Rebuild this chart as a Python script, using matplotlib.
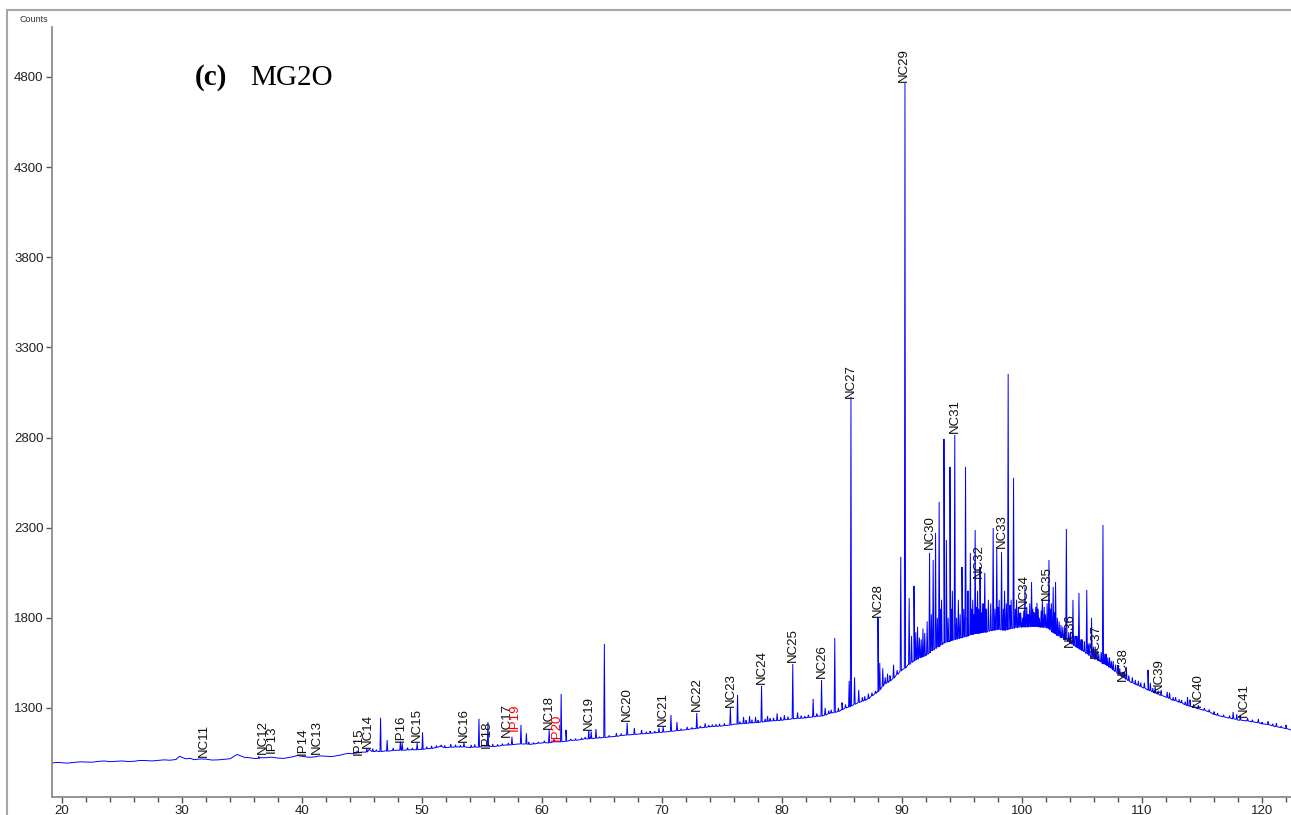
import matplotlib
matplotlib.use("Agg")
import matplotlib.pyplot as plt
from matplotlib.patches import Rectangle
from matplotlib.ticker import MultipleLocator

# ---------------- data ----------------
base_x = [19.2, 19.7, 20, 20.5, 21, 21.5, 22, 22.5, 23, 23.5, 24, 24.5, 25, 25.5, 26, 26.5, 27, 27.5, 28, 28.5,
          29, 29.5, 29.8, 30.3, 30.7, 31, 31.5, 32, 32.5, 33, 33.5, 34, 34.6, 35.2, 35.6, 36, 36.5, 37, 37.5, 38,
          38.5, 39, 39.3, 39.6, 40.2, 40.6, 41, 41.5, 42, 42.5, 43, 43.3, 43.8, 44.2, 44.5, 45,
          45.6, 46, 47, 48, 49, 50, 51, 51.5, 52, 53, 54, 55, 56, 57, 58,
          59, 60, 61, 62, 63, 64, 65, 66, 67, 68, 69, 70, 71, 72, 73, 74, 75, 76, 77, 78, 79, 80, 81, 82, 83, 84,
          85, 86, 87, 88, 88.5, 89, 89.5, 90, 90.5, 91, 91.5, 92, 92.5, 93, 93.5, 94, 94.5, 95, 95.5, 96, 96.5,
          97, 97.5, 98, 98.5, 99, 99.5, 100, 100.5, 101, 101.5, 102, 102.5, 103, 103.5, 104, 104.5, 105, 105.5,
          106, 106.5, 107, 107.5, 108, 108.5, 109, 109.5, 110, 110.5, 111, 111.5, 112, 112.5, 113, 113.5, 114,
          114.5, 115, 115.5, 116, 116.5, 117, 117.5, 118, 118.5, 119, 119.5, 120, 120.5, 121, 121.5, 122, 122.4]
base_y = [995, 998, 996, 994, 998, 1001, 1000, 999, 1003, 1006, 1002, 1004, 1006, 1003, 1004, 1009, 1008, 1006,
          1009, 1012, 1010, 1014, 1032, 1018, 1020, 1013, 1017, 1016, 1011, 1012, 1015, 1018, 1042, 1026, 1024,
          1020, 1024, 1024, 1027, 1022, 1020, 1026, 1030, 1036, 1030, 1026, 1028, 1034, 1032, 1030, 1036, 1040,
          1048, 1046, 1050, 1055,
          1070, 1058, 1062, 1066,
          1068, 1072, 1078, 1088, 1080, 1084, 1080, 1090, 1085, 1095, 1100, 1098, 1106, 1112, 1118, 1122, 1132,
          1135, 1142, 1150, 1155, 1160, 1165, 1172, 1180, 1188, 1196, 1200, 1210, 1215, 1220, 1228, 1232, 1240,
          1245, 1255, 1270, 1290, 1320, 1345, 1390, 1430, 1450, 1480, 1510, 1540, 1560, 1580, 1590, 1620, 1640,
          1660, 1670, 1680, 1690, 1700, 1710, 1715, 1720, 1730, 1735, 1730, 1740, 1745, 1748, 1750, 1752, 1748,
          1745, 1720, 1700, 1680, 1660, 1640, 1620, 1600, 1580, 1560, 1540, 1520, 1490, 1470, 1445, 1430, 1415,
          1400, 1385, 1370, 1360, 1345, 1335, 1320, 1310, 1300, 1290, 1280, 1265, 1255, 1248, 1240, 1232, 1230,
          1225, 1220, 1212, 1208, 1198, 1192, 1186, 1178]

# labelled / prominent peaks
peak_x = [36.4, 44.6, 45.4, 46.55, 47.1, 48.2, 48.35, 49.6, 50.05, 50.8, 51.9, 52.4, 53.5, 54.75, 55.5, 57.2,
          57.5, 58.25, 58.7, 60.6, 61.6, 62.0, 63.9, 64.1, 64.5, 65.2, 66.2, 67.1, 67.7, 68.3, 69.0, 69.75, 70.1,
          70.75, 71.25, 72.1, 72.9, 73.6, 74.5, 75.7, 76.3, 76.8, 77.3, 77.8, 78.3, 78.8, 79.6, 80.2, 80.9, 81.3,
          82.6, 83.3, 83.6, 84.4, 85.0, 85.6, 85.75, 86.05, 86.4, 87.2, 88.0, 88.15, 88.4, 88.8, 89.3, 89.9,
          90.25, 90.6, 91.0, 91.3, 91.6, 91.9, 92.3, 92.6, 92.8, 93.1, 93.3, 93.5, 93.7, 94.0, 94.2, 94.4, 94.7,
          95.0, 95.3, 95.5, 95.7, 95.9, 96.1, 96.3, 96.5, 96.7, 96.9, 97.2, 97.6, 97.9, 98.1, 98.3, 98.55, 98.85,
          99.1, 99.3, 99.55, 99.8, 100.05, 100.25, 100.5, 100.8, 101.0, 101.25, 101.45, 101.7, 101.95, 102.25,
          102.45, 102.6, 102.8, 103.1, 103.4, 103.7, 103.9, 104.25, 104.5, 104.75, 105.0, 105.4, 105.6, 105.8,
          106.1, 106.4, 106.75, 107.0, 107.3, 107.6, 108.0, 108.35, 108.7, 109.2, 109.7, 110.2, 110.5, 110.7,
          111.1, 111.6, 112.1, 112.3, 112.8, 113.3, 113.8, 114.0, 114.7, 115.2, 116.0, 117.6, 117.9, 118.2,
          118.8, 119.7, 120.5, 121.2, 122.0]
peak_top = [1032, 1062, 1078, 1245, 1122, 1112, 1105, 1105, 1165, 1090, 1092, 1100, 1106, 1240, 1222, 1106,
            1140, 1206, 1160, 1178, 1378, 1178, 1178, 1170, 1183, 1655, 1161, 1217, 1189, 1178, 1172, 1189, 1195,
            1261, 1222, 1195, 1272, 1215, 1210, 1300, 1372, 1250, 1255, 1250, 1422, 1255, 1270, 1260, 1544, 1275,
            1350, 1455, 1300, 1688, 1330, 1450, 3025, 1470, 1400, 1380, 1800, 1550, 1520, 1490, 1540, 2138,
            4767, 1910, 1977, 1750, 1680, 1716, 2160, 2121, 2271, 2443, 1900, 2792, 2232, 2637, 1950, 2814, 1900,
            2082, 2637, 1950, 2160, 1900, 2287, 1950, 2082, 1880, 2049, 1900, 2298, 2193, 1900, 2165, 1950, 3153,
            1900, 2576, 1900, 1827, 1800, 1971, 1820, 1999, 1830, 1882, 1800, 1899, 1820, 2121,
            1880, 1971, 1999, 1780, 1750, 2293, 1720, 1899, 1700, 1938, 1680, 1955, 1660, 1800,
            1640, 1600, 2315, 1600, 1580, 1560, 1538, 1500, 1527, 1470, 1450, 1440, 1511, 1439,
            1420, 1400, 1390, 1385, 1360, 1345, 1361, 1345, 1315, 1300, 1280, 1278, 1265, 1261,
            1245, 1239, 1225, 1217, 1206]
peak_foot = [1020, 1050, 1055, 1058, 1060, 1065, 1065, 1068, 1070, 1075, 1080, 1082, 1084, 1082, 1088, 1094,
             1096, 1100, 1100, 1106, 1112, 1115, 1128, 1130, 1132, 1136, 1142, 1150, 1153, 1156, 1160, 1164, 1166,
             1170, 1174, 1180, 1186, 1192, 1198, 1205, 1210, 1213, 1216, 1218, 1222, 1225, 1230, 1234, 1240, 1242,
             1250, 1255, 1260, 1275, 1290, 1305, 1310, 1320, 1330, 1350, 1390, 1400, 1420, 1440, 1465, 1505,
             1520, 1540, 1560, 1570, 1580, 1588, 1605, 1620, 1630, 1640, 1650, 1660, 1665, 1670, 1675, 1680, 1685,
             1690, 1695, 1700, 1705, 1708, 1710, 1712, 1715, 1718, 1720, 1725, 1730, 1733, 1735, 1733, 1730, 1735,
             1740, 1742, 1745, 1747, 1748, 1749, 1750, 1751, 1752, 1750, 1748, 1747, 1745, 1740,
             1730, 1720, 1710, 1700, 1690, 1680, 1668, 1652, 1640, 1630, 1620, 1600, 1592, 1582,
             1570, 1560, 1545, 1538, 1525, 1510, 1490, 1472, 1458, 1440, 1425, 1410, 1400, 1395,
             1382, 1370, 1358, 1352, 1340, 1328, 1312, 1310, 1295, 1287, 1265, 1240, 1236, 1232,
             1228, 1218, 1208, 1196, 1186]

# small peaks (noise-level reflections)
minor_x = [45.9, 46.2, 47.6, 48.8, 49.2, 50.4, 51.2, 51.6, 52.8, 53.2, 54.1, 54.4, 55.9, 56.3, 56.7, 58.9,
           59.3, 59.7, 60.2, 61.0, 62.4, 62.8, 63.3, 63.6, 64.8, 65.6, 66.6, 68.7, 69.4, 71.6, 72.5, 73.2,
           73.9, 74.2, 74.8, 75.2, 76.5, 77.0, 77.5, 78.0, 78.6, 79.0, 79.3, 79.9, 80.5, 81.6, 81.9, 82.2,
           82.9, 83.9, 84.1, 84.7, 85.3, 86.7, 86.9, 87.5, 87.8, 88.6, 89.0, 89.6,
           90.8, 91.15, 91.45, 91.75, 92.1, 92.45, 92.95, 93.2, 93.85, 94.1, 94.55, 94.85, 95.15, 95.45, 95.8,
           96.0, 96.2, 96.4, 96.6, 96.8, 97.0, 97.4, 97.75, 98.0, 98.45, 98.7, 99.0, 99.45, 99.7, 99.9,
           100.15, 100.4, 100.65, 100.9, 101.15, 101.35, 101.6, 101.85, 102.1, 102.35, 102.7, 102.95, 103.25,
           103.55, 104.05, 104.35, 104.65, 104.9, 105.2, 105.5, 105.95, 106.25, 106.6, 106.9, 107.15, 107.45,
           107.8, 108.15, 108.5, 108.9,
           109.45, 109.9, 110.9, 111.35, 112.6, 113.1, 113.6, 114.3, 115.6, 116.3, 116.8, 117.3, 119.2, 120.0,
           120.9, 121.6]
minor_top = [1075, 1068, 1078, 1080, 1078, 1085, 1092, 1095, 1096, 1094, 1095, 1098, 1100, 1098, 1102, 1112,
             1108, 1112, 1118, 1125, 1128, 1130, 1134, 1138, 1140, 1148, 1158, 1168, 1172, 1185, 1192, 1200,
             1205, 1208, 1212, 1215, 1225, 1232, 1235, 1232, 1240, 1242, 1245, 1250, 1252, 1258, 1255, 1262,
             1270, 1285, 1290, 1300, 1320, 1360, 1365, 1385, 1395, 1470, 1480, 1510,
             1700, 1720, 1690, 1740, 1780, 1820, 1800, 1850, 1800, 1850, 1800, 1820, 1850, 1800, 1850,
             1820, 1860, 1850, 1830, 1880, 1850, 1880, 1850, 1860, 1850, 1880, 1870, 1850, 1860, 1830,
             1840, 1860, 1880, 1850, 1860, 1850, 1840, 1860, 1880, 1850, 1830, 1800, 1760,
             1740, 1720, 1700, 1700, 1680, 1670, 1650, 1640, 1620, 1610, 1600, 1580, 1560,
             1540, 1520, 1500, 1480,
             1455, 1440, 1410, 1395, 1360, 1348, 1335, 1320, 1292, 1272, 1262, 1258, 1235, 1222,
             1212, 1200]
minor_foot = [1058, 1060, 1064, 1067, 1068, 1074, 1080, 1086, 1083, 1083, 1081, 1083, 1086, 1088, 1092, 1098,
              1100, 1104, 1107, 1112, 1120, 1121, 1125, 1129, 1134, 1139, 1147, 1158, 1162, 1176, 1184, 1190,
              1195, 1197, 1199, 1202, 1212, 1215, 1217, 1220, 1224, 1228, 1229, 1231, 1236, 1243, 1244, 1247,
              1253, 1268, 1272, 1280, 1300, 1337, 1342, 1367, 1380, 1434, 1450, 1486,
              1552, 1566, 1578, 1585, 1596, 1617, 1638, 1648, 1667, 1672, 1681, 1687, 1693, 1699, 1706,
              1710, 1711, 1714, 1716, 1719, 1720, 1728, 1732, 1735, 1731, 1733, 1740, 1744, 1746, 1747,
              1748, 1749, 1750, 1751, 1751, 1749, 1748, 1746, 1744, 1735, 1715, 1702, 1690,
              1678, 1658, 1646, 1634, 1624, 1612, 1600, 1582, 1570, 1556, 1544, 1534, 1522,
              1502, 1484, 1470, 1450,
              1432, 1418, 1388, 1376, 1342, 1332, 1318, 1304, 1278, 1259, 1251, 1244, 1223, 1212,
              1201, 1191]

label_text = ["NC11", "NC12", "IP13", "IP14", "NC13", "IP15", "NC14", "IP16", "NC15", "NC16", "IP18", "NC17",
              "IP19", "NC18", "IP20", "NC19", "NC20", "NC21", "NC22", "NC23", "NC24", "NC25", "NC26", "NC27",
              "NC28", "NC29", "NC30", "NC31", "NC32", "NC33", "NC34", "NC35", "NC36", "NC37", "NC38", "NC39",
              "NC40", "NC41"]
label_x = [31.8, 36.75, 37.5, 40.1, 41.25, 44.7, 45.5, 48.25, 49.6, 53.5, 55.4, 57.1, 57.7, 60.6, 61.2, 63.9,
           67.1, 70.1, 72.9, 75.75, 78.3, 80.9, 83.3, 85.75, 88.0, 90.2, 92.3, 94.4, 96.4, 98.3, 100.2, 102.1,
           104.0, 106.2, 108.4, 111.4, 114.7, 118.5]
label_y = [1028, 1045, 1050, 1039, 1045, 1039, 1078, 1111, 1111, 1111, 1078, 1139, 1172, 1183, 1117, 1178,
           1228, 1200, 1283, 1306, 1433, 1555, 1466, 3020, 1805, 4772, 2182, 2825, 2021, 2188, 1855, 1899, 1638,
           1577, 1450, 1389, 1306, 1250]
red_labels = ["IP19", "IP20"]

x_ticks = [20, 30, 40, 50, 60, 70, 80, 90, 100, 110, 120]
y_ticks = [1300, 1800, 2300, 2800, 3300, 3800, 4300, 4800]

# ---------------- build line ----------------
pts = list(zip(base_x, base_y))
hw = 0.05
for px, pt, pf in list(zip(peak_x, peak_top, peak_foot)) + list(zip(minor_x, minor_top, minor_foot)):
    pts += [(px - hw, pf), (px, pt), (px + hw, pf)]
pts.sort(key=lambda p: p[0])
xs = [p[0] for p in pts]
ys = [p[1] for p in pts]

# ---------------- figure ----------------
W, H = 1291, 815
fig = plt.figure(figsize=(W / 100, H / 100), dpi=100)
ax = fig.add_axes([52 / W, 1 - 797 / H, 1 - 52 / W, (797 - 27) / H])

ax.plot(xs, ys, color="#0000ff", lw=0.7, solid_joinstyle="miter")

ax.set_xlim(19.17, 122.42)
ax.set_ylim(806, 5077)
ax.set_xticks(x_ticks)
ax.xaxis.set_minor_locator(MultipleLocator(2))
ax.set_yticks(y_ticks)

for s in ["top", "right"]:
    ax.spines[s].set_visible(False)
for s in ["left", "bottom"]:
    ax.spines[s].set_color("#8c8c8c")
    ax.spines[s].set_linewidth(1.3)

ax.tick_params(axis="both", which="major", direction="out", length=4, width=1, color="#555555",
               labelsize=9.5, labelcolor="#222222", pad=2)
ax.tick_params(axis="x", which="minor", direction="out", length=3.5, width=1, color="#555555")
for t in ax.get_xticklabels() + ax.get_yticklabels():
    t.set_fontfamily("Liberation Sans")

for txt, lx, ly in zip(label_text, label_x, label_y):
    ax.text(lx, ly, txt, rotation=90, ha="center", va="bottom", fontsize=9.5,
            family="Liberation Sans", color="#ff0000" if txt in red_labels else "#111111")

fig.text(34 / W, 1 - 19 / H, "Counts", ha="center", va="center", fontsize=6.5,
         family="Liberation Sans", color="#333333")

fig.text(195 / W, 1 - 85 / H, "(c)", ha="left", va="baseline", fontsize=21, fontweight="bold",
         family="Liberation Serif", color="black")
fig.text(250 / W, 1 - 85 / H, "MG2O", ha="left", va="baseline", fontsize=21,
         family="Liberation Serif", color="black")

fig.patches.append(Rectangle((7 / W, -0.05), 1.1, 1 - 10 / H + 0.05, transform=fig.transFigure,
                             fill=False, edgecolor="#a6a6a6", lw=1.5))

fig.savefig("out.png", dpi=100)
